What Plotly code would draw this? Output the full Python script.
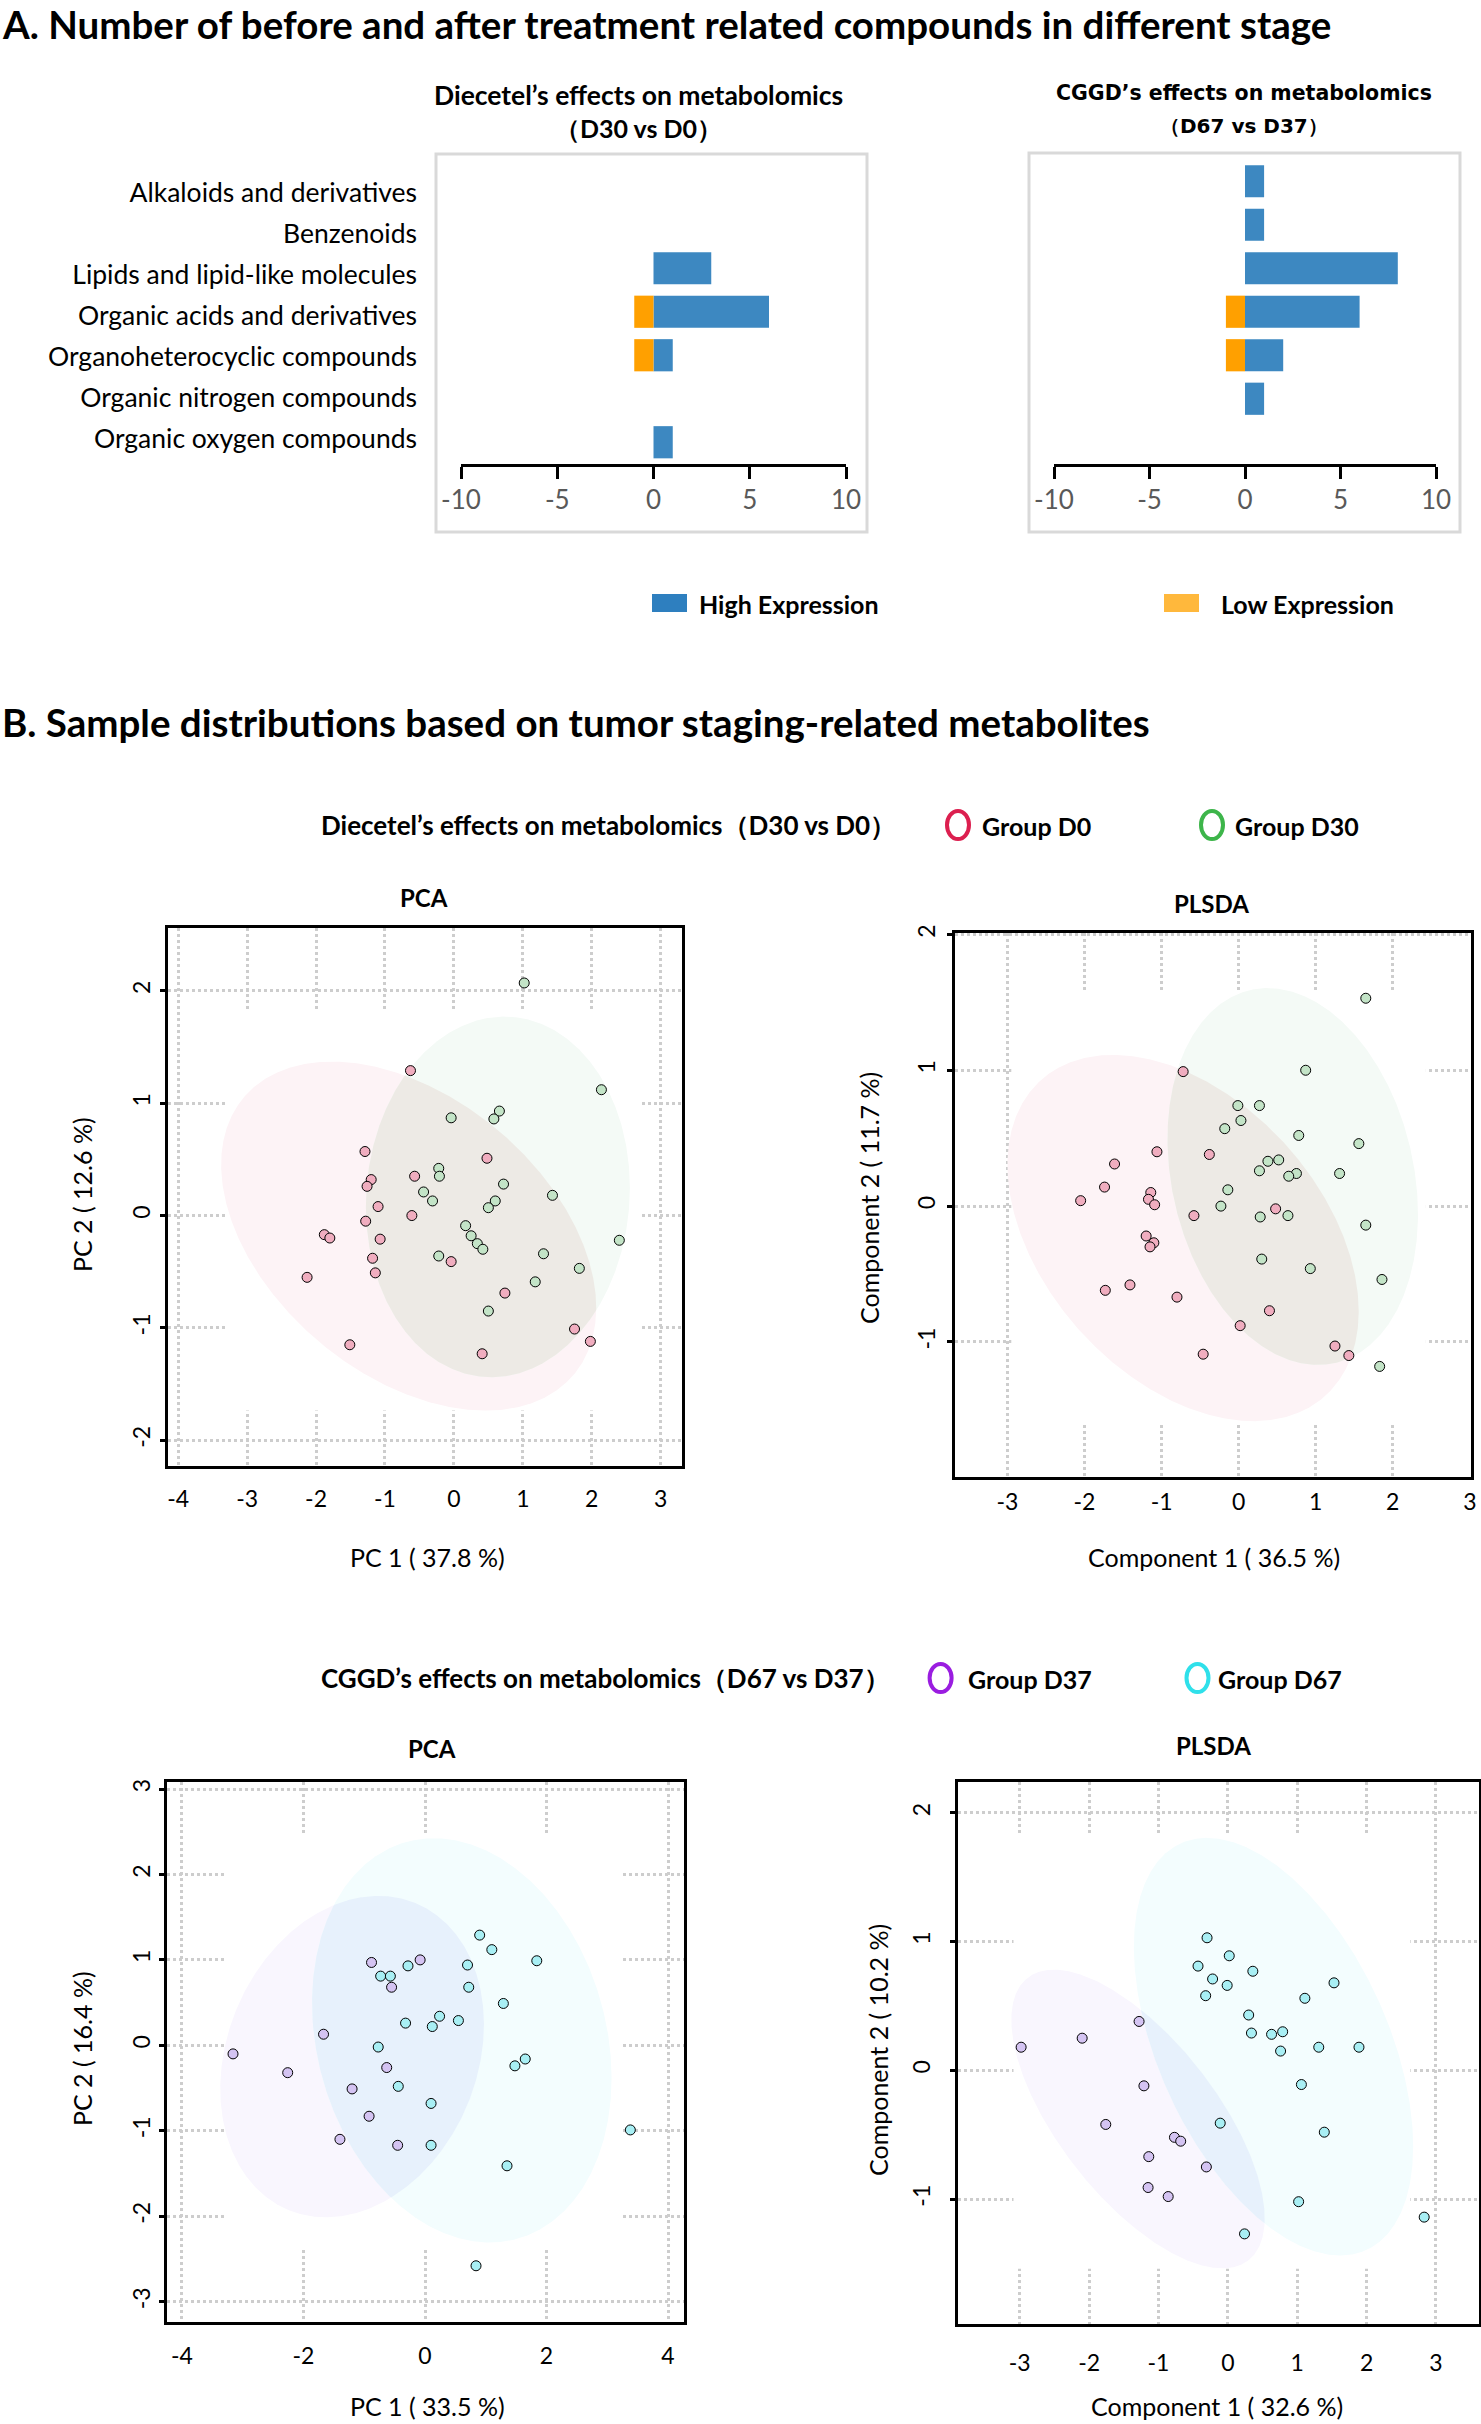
import numpy as np
import plotly.graph_objects as go

W, H = 1481, 2424
FONT = "Lato, 'Open Sans', sans-serif"
WIDE = "'DejaVu Sans', Verdana, sans-serif"

# ---------------- Panel A data ----------------
categories = ["Alkaloids and derivatives", "Benzenoids", "Lipids and lipid-like molecules",
              "Organic acids and derivatives", "Organoheterocyclic compounds",
              "Organic nitrogen compounds", "Organic oxygen compounds"]
diecetel_high = [0, 0, 3, 6, 1, 0, 1]
diecetel_low = [0, 0, 0, -1, -1, 0, 0]
cggd_high = [1, 1, 8, 6, 2, 1, 0]
cggd_low = [0, 0, 0, -1, -1, 0, 0]
bar_ticks = [-10, -5, 0, 5, 10]

# ---------------- Panel B data ----------------
pca1_d0_x = [-0.63, -1.29, -1.20, -1.26, -0.57, 0.48, -1.10, -0.61, -1.28, -1.88, -1.80,
             -1.07, -1.18, -0.04, -1.14, -2.13, 0.74, 1.75, 1.98, -1.51, 0.41]
pca1_d0_y = [1.29, 0.57, 0.32, 0.26, 0.35, 0.51, 0.08, 0.00, -0.05, -0.17, -0.20,
             -0.21, -0.38, -0.41, -0.51, -0.55, -0.69, -1.01, -1.12, -1.15, -1.23]
pca1_d30_x = [1.02, 2.14, -0.04, 0.66, 0.58, -0.22, -0.21, 0.72, -0.44, -0.31, 1.43, 0.60,
              0.50, 0.17, 0.25, 0.34, 0.42, 2.40, -0.22, 1.30, 1.82, 1.18, 0.50]
pca1_d30_y = [2.07, 1.12, 0.87, 0.93, 0.86, 0.42, 0.35, 0.28, 0.21, 0.13, 0.18, 0.13,
              0.07, -0.09, -0.18, -0.25, -0.30, -0.22, -0.36, -0.34, -0.47, -0.59, -0.85]

plsda1_d0_x = [-0.72, -1.06, -0.38, -1.61, -1.74, -2.05, -1.14, -1.17, -1.09, -0.58, 0.48,
               -1.20, -1.10, -1.15, -1.41, -1.73, -0.80, 0.40, 0.02, 1.25, 1.43, -0.46]
plsda1_d0_y = [0.99, 0.40, 0.38, 0.31, 0.14, 0.04, 0.10, 0.05, 0.01, -0.07, -0.02,
               -0.22, -0.27, -0.30, -0.58, -0.62, -0.67, -0.77, -0.88, -1.03, -1.10, -1.09]
plsda1_d30_x = [1.65, 0.87, -0.01, 0.27, 0.03, -0.18, 0.78, 1.56, 0.38, 0.52, 0.27, 0.75,
                0.65, 1.31, -0.14, -0.23, 0.28, 0.64, 1.65, 0.30, 0.93, 1.86, 1.83]
plsda1_d30_y = [1.53, 1.00, 0.74, 0.74, 0.63, 0.57, 0.52, 0.46, 0.33, 0.34, 0.26, 0.24,
                0.22, 0.24, 0.12, 0.00, -0.08, -0.07, -0.14, -0.39, -0.46, -0.54, -1.18]

pca2_d37_x = [-0.88, -0.08, -0.55, -1.67, -3.16, -2.26, -0.63, -1.20, -0.92, -1.40, -0.45]
pca2_d37_y = [0.97, 1.00, 0.68, 0.13, -0.10, -0.32, -0.26, -0.51, -0.83, -1.10, -1.17]
pca2_d67_x = [0.90, 1.10, 1.84, -0.28, 0.70, -0.73, -0.57, 0.72, 1.29, 0.24, -0.32,
              0.12, 0.55, -0.77, 1.65, 1.48, -0.44, 0.10, 0.10, 1.35, 3.38, 0.84]
pca2_d67_y = [1.29, 1.12, 0.99, 0.93, 0.94, 0.81, 0.81, 0.68, 0.49, 0.34, 0.26,
              0.22, 0.29, -0.02, -0.16, -0.24, -0.48, -0.68, -1.17, -1.41, -0.99, -2.58]

plsda2_d37_x = [-1.28, -2.10, -2.98, -1.21, -1.76, -0.77, -0.68, -1.14, -0.31, -1.15, -0.86]
plsda2_d37_y = [0.38, 0.25, 0.18, -0.12, -0.42, -0.52, -0.55, -0.67, -0.75, -0.91, -0.98]
plsda2_d67_x = [-0.30, 0.02, -0.43, 0.36, -0.22, -0.01, 1.53, -0.32, 1.11, 0.30, 0.34,
                0.63, 0.79, 0.76, 1.31, 1.89, 1.06, -0.11, 1.39, 1.02, 2.83, 0.24]
plsda2_d67_y = [1.03, 0.89, 0.81, 0.77, 0.71, 0.66, 0.68, 0.58, 0.56, 0.43, 0.29,
                0.28, 0.30, 0.15, 0.18, 0.18, -0.11, -0.41, -0.48, -1.02, -1.14, -1.27]

# confidence ellipses: centre x, centre y, half-width x, half-height y, correlation
pca1_d0_ell = [-0.656, -0.183, 2.721, 1.553, -0.41]
pca1_d30_ell = [0.638, 0.166, 1.915, 1.605, 0.05]
plsda1_d0_ell = [-0.721, -0.235, 2.279, 1.348, -0.40]
plsda1_d30_ell = [0.702, 0.218, 1.625, 1.387, -0.20]
pca2_d37_ell = [-1.20, -0.132, 2.170, 1.881, 0.20]
pca2_d67_ell = [0.606, 0.058, 2.465, 2.366, -0.186]
plsda2_d37_ell = [-1.295, -0.378, 1.826, 1.160, -0.665]
plsda2_d67_ell = [0.658, 0.184, 2.013, 1.622, -0.477]

pca1_xticks = [-4, -3, -2, -1, 0, 1, 2, 3]
pca1_yticks = [-2, -1, 0, 1, 2]
plsda1_xticks = [-3, -2, -1, 0, 1, 2, 3]
plsda1_yticks = [-1, 0, 1, 2]
pca2_xticks = [-4, -2, 0, 2, 4]
pca2_yticks = [-3, -2, -1, 0, 1, 2, 3]
plsda2_xticks = [-3, -2, -1, 0, 1, 2, 3]
plsda2_yticks = [-1, 0, 1, 2]

# ---------------- colours ----------------
BLUE, ORANGE = "#3d88c1", "#ffa000"
LEG_BLUE, LEG_ORANGE = "#2e7fbf", "#ffb83c"
C_D0, C_D30, C_D37, C_D67 = "#f0adbf", "#c3e4c7", "#d4c3f2", "#a8eff4"
L_D0, L_D30, L_D37, L_D67 = "#dc1f4f", "#3db54a", "#9a1de0", "#2fe0ea"


def fx(p):
    return p / W


def fy(p):
    return 1 - p / H


def xdom(a, b):
    return [fx(a), fx(b)]


def ydom(top, bottom):
    return [fy(bottom), fy(top)]


def labels(vals):
    return [str(v) for v in vals]


def ellipse_xy(p, n=720):
    cx, cy, sx, sy, rho = p
    t = np.linspace(0, 2 * np.pi, n)
    x = cx + sx * np.cos(t)
    y = cy + sy * (rho * np.cos(t) + np.sqrt(1 - rho ** 2) * np.sin(t))
    return x, y


def inside(p, x, y):
    cx, cy, sx, sy, rho = p
    u = (x - cx) / sx
    v = ((y - cy) / sy - rho * u) / np.sqrt(1 - rho ** 2)
    return u ** 2 + v ** 2 <= 1


def overlap(p1, p2):
    x1, y1 = ellipse_xy(p1)
    x2, y2 = ellipse_xy(p2)
    m1 = inside(p2, x1, y1)
    m2 = inside(p1, x2, y2)
    xs = np.concatenate([x1[m1], x2[m2]])
    ys = np.concatenate([y1[m1], y2[m2]])
    order = np.argsort(np.arctan2(ys - ys.mean(), xs - xs.mean()))
    xs, ys = xs[order], ys[order]
    return np.append(xs, xs[0]), np.append(ys, ys[0])


fig = go.Figure()

# ---- Panel A bars ----
for xa, ya, hi, lo in [("x", "y", diecetel_high, diecetel_low), ("x2", "y2", cggd_high, cggd_low)]:
    fig.add_trace(go.Bar(y=categories, x=hi, orientation="h", width=0.74,
                         marker=dict(color=BLUE, line=dict(width=0)),
                         xaxis=xa, yaxis=ya, showlegend=False, hoverinfo="skip"))
    fig.add_trace(go.Bar(y=categories, x=lo, orientation="h", width=0.74,
                         marker=dict(color=ORANGE, line=dict(width=0)),
                         xaxis=xa, yaxis=ya, showlegend=False, hoverinfo="skip"))
# placeholder so the category-label axis is drawn
fig.add_trace(go.Scatter(x=[None], y=[None], xaxis="x7", yaxis="y7", showlegend=False,
                         hoverinfo="skip"))

# ---- Panel B scatters ----
panels = [
    ("x3", "y3", pca1_d0_ell, pca1_d30_ell, "#fdf3f6", "#f4faf6", "#edeae5",
     (pca1_d0_x, pca1_d0_y, C_D0), (pca1_d30_x, pca1_d30_y, C_D30)),
    ("x4", "y4", plsda1_d0_ell, plsda1_d30_ell, "#fdf3f6", "#f4faf6", "#edeae5",
     (plsda1_d0_x, plsda1_d0_y, C_D0), (plsda1_d30_x, plsda1_d30_y, C_D30)),
    ("x5", "y5", pca2_d37_ell, pca2_d67_ell, "#f9f6fe", "#f3fdfe", "#e7f1fc",
     (pca2_d37_x, pca2_d37_y, C_D37), (pca2_d67_x, pca2_d67_y, C_D67)),
    ("x6", "y6", plsda2_d37_ell, plsda2_d67_ell, "#f9f6fe", "#f3fdfe", "#e7f1fc",
     (plsda2_d37_x, plsda2_d37_y, C_D37), (plsda2_d67_x, plsda2_d67_y, C_D67)),
]
for xa, ya, e1, e2, f1, f2, f12, g1, g2 in panels:
    for e, f in [(e1, f1), (e2, f2)]:
        ex, ey = ellipse_xy(e)
        fig.add_trace(go.Scatter(x=ex, y=ey, mode="lines", fill="toself", fillcolor=f,
                                 line=dict(width=0, color=f), xaxis=xa, yaxis=ya,
                                 showlegend=False, hoverinfo="skip"))
    ox, oy = overlap(e1, e2)
    fig.add_trace(go.Scatter(x=ox, y=oy, mode="lines", fill="toself", fillcolor=f12,
                             line=dict(width=0, color=f12), xaxis=xa, yaxis=ya,
                             showlegend=False, hoverinfo="skip"))
    for gx, gy, col in [g1, g2]:
        fig.add_trace(go.Scatter(x=gx, y=gy, mode="markers", xaxis=xa, yaxis=ya,
                                 marker=dict(size=10, color=col, line=dict(width=1, color="black")),
                                 showlegend=False, hoverinfo="skip"))

layout = dict(width=W, height=H, autosize=False,
              margin=dict(l=0, r=0, t=0, b=0, pad=0, autoexpand=False),
              paper_bgcolor="white", plot_bgcolor="rgba(0,0,0,0)", showlegend=False,
              barmode="relative", font=dict(family=FONT, color="black"))

bar_x = dict(range=[-10, 10], tickvals=bar_ticks, ticktext=labels(bar_ticks), showline=True,
             linecolor="black", linewidth=3, ticks="outside", ticklen=12, tickwidth=2.5,
             tickcolor="black", showgrid=False, zeroline=False, fixedrange=True,
             ticklabelstandoff=-1, automargin=False,
             tickfont=dict(family=FONT, size=26, color="#595959"))
bar_y = dict(type="category", categoryorder="array", categoryarray=categories, range=[6.5, -0.5],
             showticklabels=False, showgrid=False, zeroline=False, showline=False, ticks="",
             fixedrange=True, automargin=False)
layout["xaxis"] = dict(domain=xdom(461, 846), anchor="y", **bar_x)
layout["yaxis"] = dict(domain=ydom(159.5, 464), anchor="x", **bar_y)
layout["xaxis2"] = dict(domain=xdom(1054, 1436), anchor="y2", **bar_x)
layout["yaxis2"] = dict(domain=ydom(159.5, 464), anchor="x2", **bar_y)
# category label axis
layout["xaxis7"] = dict(domain=xdom(461, 846), anchor="y7", range=[0, 1], showgrid=False,
                        zeroline=False, showline=False, showticklabels=False, ticks="",
                        automargin=False, fixedrange=True)
layout["yaxis7"] = dict(domain=ydom(172.5, 459.5), anchor="x7", range=[6.5, -0.5],
                        tickmode="array", tickvals=list(range(len(categories))), ticktext=categories,
                        showgrid=False, zeroline=False, showline=False, ticks="",
                        ticklabelstandoff=43, fixedrange=True, automargin=False,
                        tickfont=dict(family=FONT, size=26.5, color="black"))

common = dict(showline=True, mirror=True, linecolor="black", linewidth=2.5, showgrid=True,
              gridcolor="#cdcdcd", gridwidth=3, griddash="3px,3px", zeroline=False,
              fixedrange=True, automargin=False, tickfont=dict(family=FONT, size=23, color="black"))


def sc_axes(n, xd, yd, xr, yr, xt, yt, xstand, ystand):
    layout["xaxis%d" % n] = dict(domain=xd, range=xr, tickvals=xt, ticktext=labels(xt), ticks="",
                                 ticklabelstandoff=xstand, anchor="y%d" % n, **common)
    layout["yaxis%d" % n] = dict(domain=yd, range=yr, tickvals=yt, ticktext=labels(yt),
                                 ticks="outside", ticklen=5, tickwidth=3, tickcolor="black",
                                 tickangle=-90, ticklabelstandoff=ystand, anchor="x%d" % n, **common)


sc_axes(3, xdom(168.2, 682.4), ydom(927.7, 1466), [-4.145, 3.315], [-2.229, 2.562],
        pca1_xticks, pca1_yticks, 11, 1)
sc_axes(4, xdom(954.8, 1470.6), ydom(932.5, 1477), [-3.683, 3.01], [-1.994, 2.014],
        plsda1_xticks, plsda1_yticks, 3, 3)
sc_axes(5, xdom(166.8, 683.8), ydom(1782, 2322), [-4.25, 4.26], [-3.238, 3.082],
        pca2_xticks, pca2_yticks, 12, 0)
sc_axes(6, xdom(958, 1479), ydom(1782, 2324), [-3.89, 3.62], [-1.97, 2.24],
        plsda2_xticks, plsda2_yticks, 17, 11)

shapes = []
# white masks that hide the middle part of the dotted grid
for n, x0, x1, y0, y1 in [(3, -3.31, 2.69, -1.735, 1.82), (4, -2.95, 2.43, -1.6, 1.59),
                          (5, -3.28, 3.21, -2.37, 2.45), (6, -3.09, 2.63, -1.54, 1.83)]:
    shapes.append(dict(type="rect", xref="x%d" % n, yref="y%d" % n, x0=x0, x1=x1, y0=y0, y1=y1,
                       layer="between", fillcolor="white", line=dict(width=0)))
# frames around bar charts
for a, b, c, d in [(436, 154, 867, 532), (1029, 153, 1460, 532)]:
    shapes.append(dict(type="rect", xref="paper", yref="paper", x0=fx(a), x1=fx(c), y0=fy(d), y1=fy(b),
                       line=dict(color="#d9d9d9", width=3), fillcolor="rgba(0,0,0,0)", layer="below"))
# legend swatches
for a, col in [(652, LEG_BLUE), (1164, LEG_ORANGE)]:
    shapes.append(dict(type="rect", xref="paper", yref="paper", x0=fx(a), x1=fx(a + 35),
                       y0=fy(612), y1=fy(594), line=dict(width=0), fillcolor=col))
# group legend circles
for cx, cy, col in [(958, 825, L_D0), (1212, 825, L_D30), (940.6, 1678, L_D37), (1197.5, 1678, L_D67)]:
    shapes.append(dict(type="circle", xref="paper", yref="paper", x0=fx(cx - 11), x1=fx(cx + 11),
                       y0=fy(cy + 14), y1=fy(cy - 14), line=dict(color=col, width=4),
                       fillcolor="rgba(0,0,0,0)"))
layout["shapes"] = shapes

ann = []


def text(t, x, y, size, bold=False, xanchor="center", family=FONT, angle=0, color="black"):
    ann.append(dict(text=("<b>%s</b>" % t) if bold else t, x=fx(x), y=fy(y), xref="paper",
                    yref="paper", xanchor=xanchor, yanchor="middle", showarrow=False,
                    textangle=angle, font=dict(family=family, size=size, color=color)))


text("A. Number of before and after treatment related compounds in different stage", 0, 24, 38.5, True, "left")
text("Diecetel’s effects on metabolomics", 638, 95, 26.5, True)
text("（D30 vs D0）", 638, 128, 25, True)
text("CGGD’s effects on metabolomics", 1244, 93, 20.5, True, family=WIDE)
text("（D67 vs D37）", 1244, 126, 20, True, family=WIDE)
text("High Expression", 697, 604, 25, True, "left")
text("Low Expression", 1219, 604, 25, True, "left")
text("B. Sample distributions based on tumor staging-related metabolites", 0, 722, 38.5, True, "left")
text("Diecetel’s effects on metabolomics（D30 vs D0）", 319, 825, 26, True, "left")
text("Group D0", 980, 826, 25, True, "left")
text("Group D30", 1233, 826, 25, True, "left")
text("PCA", 424, 898, 24, True)
text("PLSDA", 1211, 904, 24, True)
text("PC 1 ( 37.8 %)", 427, 1557, 25)
text("PC 2 ( 12.6 %)", 82, 1195, 25, angle=-90)
text("Component 1 ( 36.5 %)", 1214, 1557, 25)
text("Component 2 ( 11.7 %)", 869, 1198, 25, angle=-90)
text("CGGD’s effects on metabolomics（D67 vs D37）", 319, 1678, 26, True, "left")
text("Group D37", 966, 1679, 25, True, "left")
text("Group D67", 1216, 1679, 25, True, "left")
text("PCA", 432, 1748, 24, True)
text("PLSDA", 1213, 1745, 24, True)
text("PC 1 ( 33.5 %)", 427, 2406, 25)
text("PC 2 ( 16.4 %)", 82, 2049, 25, angle=-90)
text("Component 1 ( 32.6 %)", 1217, 2406, 25)
text("Component 2 ( 10.2 %)", 878, 2050, 25, angle=-90)
layout["annotations"] = ann

fig.update_layout(**layout)
fig.write_html("out.html", config={"displayModeBar": False},
               post_script="document.body.style.margin='0';document.body.style.overflow='hidden';")
